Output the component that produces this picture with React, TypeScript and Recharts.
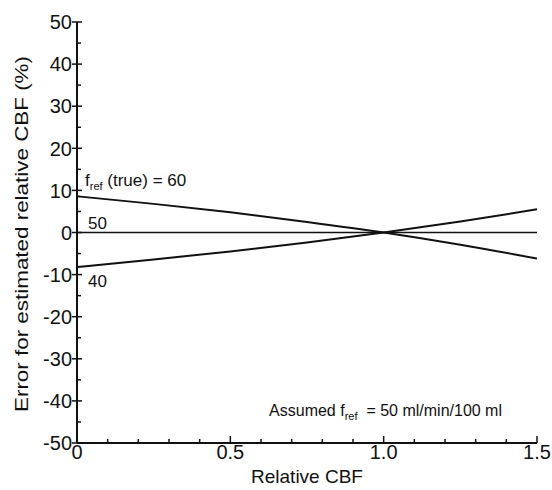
import { LineChart, Line, XAxis, YAxis } from 'recharts';

// Relative CBF (x) and estimation error (%) for three true reference flows
const relCBF = [0, 0.25, 0.5, 0.75, 1.0, 1.25, 1.5];
const errTrue60 = [8.6, 6.8, 4.8, 2.5, 0, -2.9, -6.2];
const errTrue50 = [0, 0, 0, 0, 0, 0, 0];
const errTrue40 = [-8.2, -6.4, -4.5, -2.4, 0, 2.6, 5.5];

const xTicks = [0, 0.1, 0.2, 0.3, 0.4, 0.5, 0.6, 0.7, 0.8, 0.9, 1.0, 1.1, 1.2, 1.3, 1.4, 1.5];
const xLabelValues = [0, 0.5, 1.0, 1.5];
const xLabelText = ['0', '0.5', '1.0', '1.5'];
const yTicks = [-50, -45, -40, -35, -30, -25, -20, -15, -10, -5, 0, 5, 10, 15, 20, 25, 30, 35, 40, 45, 50];
const yLabelValues = [-50, -40, -30, -20, -10, 0, 10, 20, 30, 40, 50];

const data = relCBF.map((x, i) => ({ x, t60: errTrue60[i], t50: errTrue50[i], t40: errTrue40[i] }));

const FONT = '"Liberation Sans", Arial, Helvetica, sans-serif';
const INK = '#111';

const near = (a: number, b: number) => Math.abs(a - b) < 1e-9;

function BottomTick({ x, y, payload }: any) {
  const v = payload.value;
  const idx = xLabelValues.findIndex((l) => near(l, v));
  const major = idx >= 0;
  return (
    <g>
      <line x1={x} x2={x} y1={y} y2={y - (major ? 7 : 4)} stroke={INK} strokeWidth={1.5} />
      {major && (
        <text x={x} y={y + 16} textAnchor="middle" fontSize={20} fontFamily={FONT} fill={INK}>
          {xLabelText[idx]}
        </text>
      )}
    </g>
  );
}

function TopTick({ x, y, payload }: any) {
  const major = xLabelValues.some((l) => near(l, payload.value));
  return <line x1={x} x2={x} y1={y} y2={y + (major ? 6 : 4)} stroke={INK} strokeWidth={1.5} />;
}

function LeftTick({ x, y, payload }: any) {
  const v = payload.value;
  const major = yLabelValues.includes(v);
  return (
    <g>
      <line x1={x - (major ? 5 : 0)} x2={x + (major ? 5 : 4)} y1={y} y2={y} stroke={INK} strokeWidth={1.5} />
      {major && (
        <text x={x - 5} y={y} dy="0.36em" textAnchor="end" fontSize={20} fontFamily={FONT} fill={INK}>
          {v}
        </text>
      )}
    </g>
  );
}

function RightTick({ x, y, payload }: any) {
  const major = yLabelValues.includes(payload.value);
  return <line x1={x} x2={x - (major ? 6 : 4)} y1={y} y2={y} stroke={INK} strokeWidth={1.5} />;
}

export default function App() {
  return (
    <div style={{ position: 'absolute', left: 0, top: 0, width: 552, height: 490, background: '#fff' }}>
      <LineChart width={552} height={490} data={data} margin={{ top: 22, right: 15, bottom: 17, left: 0 }}>
        <XAxis
          dataKey="x"
          type="number"
          domain={[0, 1.5]}
          ticks={xTicks}
          interval={0}
          tick={<BottomTick />}
          tickLine={false}
          tickSize={0}
          tickMargin={0}
          height={30}
          axisLine={{ stroke: INK, strokeWidth: 2 }}
        />
        <XAxis
          xAxisId="top"
          orientation="top"
          type="number"
          domain={[0, 1.5]}
          ticks={xTicks}
          interval={0}
          tick={<TopTick />}
          tickLine={false}
          tickSize={0}
          tickMargin={0}
          height={0}
          axisLine={{ stroke: INK, strokeWidth: 2 }}
        />
        <YAxis
          type="number"
          domain={[-50, 50]}
          ticks={yTicks}
          interval={0}
          tick={<LeftTick />}
          tickLine={false}
          tickSize={0}
          tickMargin={0}
          width={77}
          axisLine={{ stroke: INK, strokeWidth: 2 }}
        />
        <YAxis
          yAxisId="right"
          orientation="right"
          type="number"
          domain={[-50, 50]}
          ticks={yTicks}
          interval={0}
          tick={<RightTick />}
          tickLine={false}
          tickSize={0}
          tickMargin={0}
          width={0}
          axisLine={{ stroke: INK, strokeWidth: 2 }}
        />
        <Line dataKey="t50" type="linear" stroke={INK} strokeWidth={1.6} dot={false} isAnimationActive={false} />
        <Line dataKey="t60" type="monotone" stroke={INK} strokeWidth={2} dot={false} isAnimationActive={false} />
        <Line dataKey="t40" type="monotone" stroke={INK} strokeWidth={2} dot={false} isAnimationActive={false} />
      </LineChart>

      {/* text overlay: axis titles and annotations */}
      <svg width={552} height={490} style={{ position: 'absolute', left: 0, top: 0, pointerEvents: 'none' }}>
        <g fontFamily={FONT} fill={INK}>
          <text x={307} y={483} textAnchor="middle" fontSize={19}>Relative CBF</text>
          <text
            transform="translate(28 234) rotate(-90)"
            textAnchor="middle"
            fontSize={18}
            textLength={356}
            lengthAdjust="spacingAndGlyphs"
          >
            Error for estimated relative CBF (%)
          </text>
          <text x={85} y={186} fontSize={17}>
            f<tspan fontSize={11} dy={4}>ref</tspan>
            <tspan dy={-4}>{'\u00a0(true) = 60'}</tspan>
          </text>
          <text x={88} y={229} fontSize={17}>50</text>
          <text x={88} y={287} fontSize={17}>40</text>
          <text x={502} y={416} textAnchor="end" fontSize={16}>
            Assumed f<tspan fontSize={11} dy={4}>ref</tspan>
            <tspan dy={-4}>{'\u00a0\u00a0= 50 ml/min/100 ml'}</tspan>
          </text>
        </g>
      </svg>
    </div>
  );
}
